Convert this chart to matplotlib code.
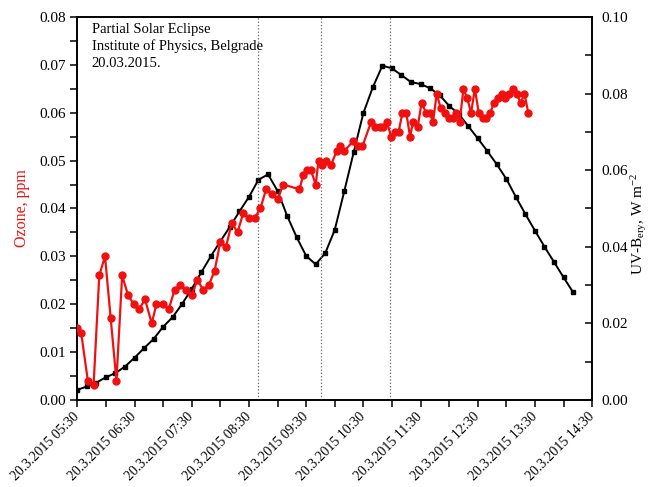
import matplotlib
matplotlib.use('Agg')
import matplotlib.pyplot as plt
import matplotlib.dates as mdates
import pandas as pd

plt.rcParams['font.family'] = ['Liberation Serif', 'DejaVu Serif']
plt.rcParams['mathtext.fontset'] = 'custom'
plt.rcParams['mathtext.rm'] = 'Liberation Serif'
plt.rcParams['mathtext.it'] = 'Liberation Serif:italic'

DAY = '2015-03-20 '

# ozone (left axis), ppm
ozone_time = [
    '05:30', '05:34', '05:41', '05:47', '05:53', '05:59', '06:05', '06:11', '06:17', '06:23',
    '06:29', '06:35', '06:41', '06:48', '06:53', '07:00', '07:06', '07:12', '07:18', '07:24',
    '07:30', '07:36', '07:42', '07:48', '07:54', '08:00', '08:06', '08:12', '08:18', '08:24',
    '08:30', '08:36', '08:42', '08:48', '08:54', '09:00', '09:06', '09:23', '09:27', '09:31',
    '09:35', '09:40', '09:43', '09:47', '09:51', '09:56', '10:02', '10:06', '10:10', '10:19',
    '10:24', '10:29', '10:38', '10:42', '10:47', '10:51', '10:55', '10:59', '11:03', '11:07',
    '11:11', '11:15', '11:19', '11:22', '11:27', '11:31', '11:36', '11:40', '11:43', '11:47',
    '11:51', '11:56', '12:00', '12:04', '12:07', '12:11', '12:15', '12:19', '12:23', '12:27',
    '12:31', '12:35', '12:39', '12:43', '12:47', '12:51', '12:55', '12:59', '13:03', '13:07',
    '13:11', '13:15', '13:19', '13:23']
ozone_ppm = [
    0.015, 0.014, 0.004, 0.003, 0.026, 0.030, 0.017, 0.004, 0.026, 0.022,
    0.020, 0.019, 0.021, 0.016, 0.020, 0.020, 0.019, 0.023, 0.024, 0.023,
    0.022, 0.025, 0.023, 0.024, 0.027, 0.033, 0.032, 0.037, 0.035, 0.039,
    0.038, 0.038, 0.040, 0.044, 0.043, 0.042, 0.045, 0.044, 0.047, 0.048,
    0.048, 0.045, 0.050, 0.049, 0.050, 0.049, 0.052, 0.053, 0.052, 0.054,
    0.053, 0.053, 0.058, 0.057, 0.057, 0.057, 0.058, 0.055, 0.056, 0.056,
    0.060, 0.060, 0.055, 0.058, 0.057, 0.062, 0.060, 0.060, 0.058, 0.064,
    0.061, 0.060, 0.059, 0.059, 0.060, 0.058, 0.065, 0.063, 0.060, 0.065,
    0.060, 0.059, 0.059, 0.060, 0.062, 0.063, 0.064, 0.063, 0.064, 0.065,
    0.064, 0.062, 0.064, 0.060]

# UV-B erythemal (right axis), W m-2, every 10 min from 05:30
uvb_start, uvb_end = '05:30', '14:10'
uvb_wm2 = [
    0.0026, 0.0035, 0.0045, 0.0059, 0.0070, 0.0087, 0.0110, 0.0135, 0.0159, 0.0191,
    0.0216, 0.0251, 0.0290, 0.0333, 0.0375, 0.0414, 0.0452, 0.0492, 0.0530, 0.0575,
    0.0589, 0.0546, 0.0481, 0.0425, 0.0376, 0.0354, 0.0383, 0.0444, 0.0545, 0.0648,
    0.0749, 0.0817, 0.0873, 0.0866, 0.0848, 0.0830, 0.0825, 0.0814, 0.0796, 0.0768,
    0.0747, 0.0715, 0.0683, 0.0650, 0.0615, 0.0577, 0.0530, 0.0485, 0.0442, 0.0400,
    0.0360, 0.0320, 0.0281]

# eclipse start / maximum / end
eclipse_marks = ['08:39', '09:46', '10:58']

t_oz = pd.to_datetime([DAY + t for t in ozone_time])
t_uv = pd.date_range(DAY + uvb_start, DAY + uvb_end, freq='10min')

fig = plt.figure(figsize=(6.5, 4.87), dpi=100)
ax = fig.add_axes([0.119, 0.179, 0.792, 0.786])
ax2 = ax.twinx()

for m in eclipse_marks:
    ax.axvline(pd.Timestamp(DAY + m), color='#666666', ls=':', lw=0.9, zorder=1)

ax2.plot(t_uv, uvb_wm2, color='black', lw=1.4, marker='s', ms=2.4)
ax.plot(t_oz, ozone_ppm, color='#f01010', lw=1.6, marker='o', ms=5, zorder=3)
ax.set_zorder(ax2.get_zorder() + 1)
ax.patch.set_visible(False)

ax.set_xlim(pd.Timestamp(DAY + '05:30'), pd.Timestamp(DAY + '14:30'))
ax.set_ylim(0, 0.08)
ax2.set_ylim(0, 0.10)

ax.xaxis.set_major_locator(mdates.MinuteLocator(byminute=[30]))
ax.xaxis.set_minor_locator(mdates.MinuteLocator(byminute=[0]))
ax.xaxis.set_major_formatter(mdates.DateFormatter('20.3.2015 %H:%M'))
ax.set_yticks([0.00, 0.01, 0.02, 0.03, 0.04, 0.05, 0.06, 0.07, 0.08])
ax.set_yticks([0.005, 0.015, 0.025, 0.035, 0.045, 0.055, 0.065, 0.075], minor=True)
ax.yaxis.set_major_formatter(matplotlib.ticker.FormatStrFormatter('%.2f'))
ax2.set_yticks([0.00, 0.02, 0.04, 0.06, 0.08, 0.10])
ax2.set_yticks([0.01, 0.03, 0.05, 0.07, 0.09], minor=True)
ax2.yaxis.set_major_formatter(matplotlib.ticker.FormatStrFormatter('%.2f'))

ax.tick_params(axis='both', which='both', direction='out', length=5, width=1.1, labelsize=11)
ax.tick_params(axis='x', which='major', pad=6, labelsize=10)
ax2.tick_params(axis='y', which='both', direction='in', length=5, width=1.1, labelsize=11, pad=7)
for lbl in ax.get_xticklabels():
    lbl.set_rotation(45)
    lbl.set_ha('right')
    lbl.set_va('center')
    lbl.set_rotation_mode('anchor')

for a in (ax, ax2):
    for s in a.spines.values():
        s.set_linewidth(1.2)

ax.set_ylabel('Ozone, ppm', color='#f01010', fontsize=11.5)
ax.yaxis.set_label_coords(-0.092, 0.5)
ax2.set_ylabel('UV-B$_{\\mathrm{ery}}$, W m$^{-2}$', fontsize=11)
ax2.yaxis.set_label_coords(1.071, 0.46)

ax.text(0.028, 0.985, 'Partial Solar Eclipse\nInstitute of Physics, Belgrade\n20.03.2015.',
        transform=ax.transAxes, ha='left', va='top', fontsize=10.5, linespacing=1.35)

fig.savefig('out.png', dpi=100)
